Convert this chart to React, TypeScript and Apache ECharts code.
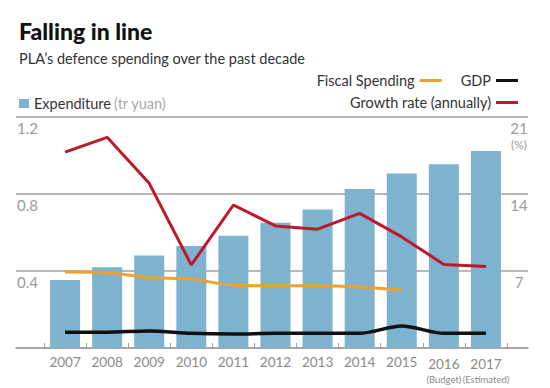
import React, { useEffect, useRef } from "react";
import * as echarts from "echarts";

const years = ["2007", "2008", "2009", "2010", "2011", "2012", "2013", "2014", "2015", "2016", "2017"];
const yearNotes: Record<string, string> = { "2016": "(Budget)", "2017": "(Estimated)" };
const expenditure = [0.353, 0.419, 0.48, 0.53, 0.583, 0.651, 0.72, 0.826, 0.907, 0.954, 1.023];
const growthRate = [17.8, 19.15, 14.97, 7.55, 13.0, 11.1, 10.8, 12.24, 10.1, 7.6, 7.4];
const fiscalSpending = [6.9, 6.85, 6.4, 6.27, 5.7, 5.66, 5.66, 5.55, 5.27, null, null];
const gdp = [1.43, 1.43, 1.55, 1.33, 1.27, 1.33, 1.33, 1.33, 2.0, 1.33, 1.33];
const leftTicks = [0, 0.4, 0.8, 1.2];
const rightTicks = [0, 7, 14, 21];

const FONT = "Lato, 'Open Sans', sans-serif";
const BAR = "#7db3cf";
const RED = "#c0172b";
const ORANGE = "#f0a02c";
const BLACK = "#111111";
const GRIDC = "#a0a0a0";
const LABELC = "#9a9a9a";

export default function App() {
  const ref = useRef<HTMLDivElement>(null);
  useEffect(() => {
    document.body.style.margin = "0";
    const chart = echarts.init(ref.current!, null, { renderer: "svg" });
    chart.setOption({
      animation: false,
      backgroundColor: "#ffffff",
      textStyle: { fontFamily: FONT },
      title: [
        {
          text: "Falling in line",
          left: 14,
          top: 14,
          textStyle: { fontSize: 23, fontWeight: 900, color: "#111", fontFamily: FONT },
        },
        {
          text: "PLA\u2019s defence spending over the past decade",
          left: 14,
          top: 46,
          textStyle: { fontSize: 14.5, fontWeight: "normal", color: "#333", fontFamily: FONT },
        },
      ],
      legend: [
        {
          data: ["Expenditure"],
          left: 14,
          top: 91,
          icon: "rect",
          itemWidth: 10,
          itemHeight: 9,
          itemGap: 4,
          formatter: () => "{a|Expenditure} {b|(tr yuan)}",
          textStyle: {
            fontFamily: FONT,
            rich: {
              a: { fontSize: 14.5, color: "#333", fontFamily: FONT },
              b: { fontSize: 14.5, color: "#aaa", fontFamily: FONT },
            },
          },
        },
        {
          data: ["Fiscal Spending", "GDP"],
          right: 27,
          top: 68,
          align: "right",
          icon: "rect",
          itemWidth: 22,
          itemHeight: 3,
          itemGap: 19,
          textStyle: { fontSize: 14.5, color: "#333", fontFamily: FONT },
        },
        {
          data: ["Growth rate (annually)"],
          right: 27,
          top: 90,
          align: "right",
          icon: "rect",
          itemWidth: 22,
          itemHeight: 3,
          textStyle: { fontSize: 14.5, color: "#333", fontFamily: FONT },
        },
      ],
      grid: [
        { left: 16, width: 512, top: 117, height: 231, containLabel: false },
        { left: 44, width: 463, top: 117, height: 231, containLabel: false },
      ],
      xAxis: [
        {
          type: "value",
          gridIndex: 0,
          min: 0,
          max: 1,
          axisLine: { show: true, onZero: false, lineStyle: { color: GRIDC, width: 1.5 } },
          axisTick: { show: false },
          axisLabel: { show: false },
          splitLine: { show: false },
        },
        {
          type: "category",
          gridIndex: 1,
          data: years,
          axisLine: { show: false },
          axisTick: { show: true, inside: true, length: 5, lineStyle: { color: GRIDC } },
          axisLabel: {
            margin: 7,
            color: "#8a8a8a",
            fontSize: 13.5,
            fontFamily: FONT,
            interval: 0,
            formatter: (v: string) => (yearNotes[v] ? `{y|${v}}\n{n|${yearNotes[v]}}` : v),
            rich: {
              y: { fontSize: 13.5, color: "#8a8a8a", lineHeight: 17, fontFamily: FONT },
              n: { fontSize: 9.5, color: "#8a8a8a", lineHeight: 14, fontFamily: FONT },
            },
          },
        },
      ],
      yAxis: [
        {
          type: "value",
          gridIndex: 0,
          position: "left",
          min: leftTicks[0],
          max: leftTicks[leftTicks.length - 1],
          interval: 0.4,
          axisLine: { show: false },
          axisTick: { show: false },
          splitLine: { show: true, lineStyle: { color: GRIDC, width: 1.5 } },
          axisLabel: {
            inside: true,
            margin: 1,
            verticalAlign: "top",
            padding: [3, 0, 0, 0],
            color: LABELC,
            fontSize: 15,
            fontFamily: FONT,
            formatter: (v: number) => (v === 0 ? "" : v.toFixed(1)),
          },
        },
        {
          type: "value",
          gridIndex: 0,
          position: "right",
          min: rightTicks[0],
          max: rightTicks[rightTicks.length - 1],
          interval: 7,
          axisLine: { show: false },
          axisTick: { show: false },
          splitLine: { show: false },
          axisLabel: {
            inside: true,
            margin: 9,
            align: "center",
            verticalAlign: "top",
            padding: [3, 0, 0, 0],
            color: LABELC,
            fontSize: 15,
            fontFamily: FONT,
            formatter: (v: number) => (v === 0 ? "" : v === 21 ? "{n|21}\n{p|(%)}" : String(v)),
            rich: {
              n: { fontSize: 15, color: LABELC, lineHeight: 16, fontFamily: FONT },
              p: { fontSize: 12, color: LABELC, lineHeight: 16, fontFamily: FONT },
            },
          },
        },
        { type: "value", gridIndex: 1, min: 0, max: 1.2, show: false },
        { type: "value", gridIndex: 1, min: 0, max: 21, show: false },
      ],
      series: [
        {
          name: "Expenditure",
          type: "bar",
          xAxisIndex: 1,
          yAxisIndex: 2,
          barWidth: 30,
          itemStyle: { color: BAR },
          data: expenditure,
        },
        {
          name: "Fiscal Spending",
          type: "line",
          xAxisIndex: 1,
          yAxisIndex: 3,
          smooth: 0.25,
          symbol: "none",
          lineStyle: { color: ORANGE, width: 3 },
          itemStyle: { color: ORANGE },
          data: fiscalSpending,
        },
        {
          name: "GDP",
          type: "line",
          xAxisIndex: 1,
          yAxisIndex: 3,
          smooth: 0.3,
          symbol: "none",
          lineStyle: { color: BLACK, width: 3.5 },
          itemStyle: { color: BLACK },
          data: gdp,
        },
        {
          name: "Growth rate (annually)",
          type: "line",
          xAxisIndex: 1,
          yAxisIndex: 3,
          symbol: "none",
          lineStyle: { color: RED, width: 3 },
          itemStyle: { color: RED },
          data: growthRate,
        },
      ],
    });
    return () => chart.dispose();
  }, []);
  return <div ref={ref} style={{ width: 550, height: 388 }} />;
}
